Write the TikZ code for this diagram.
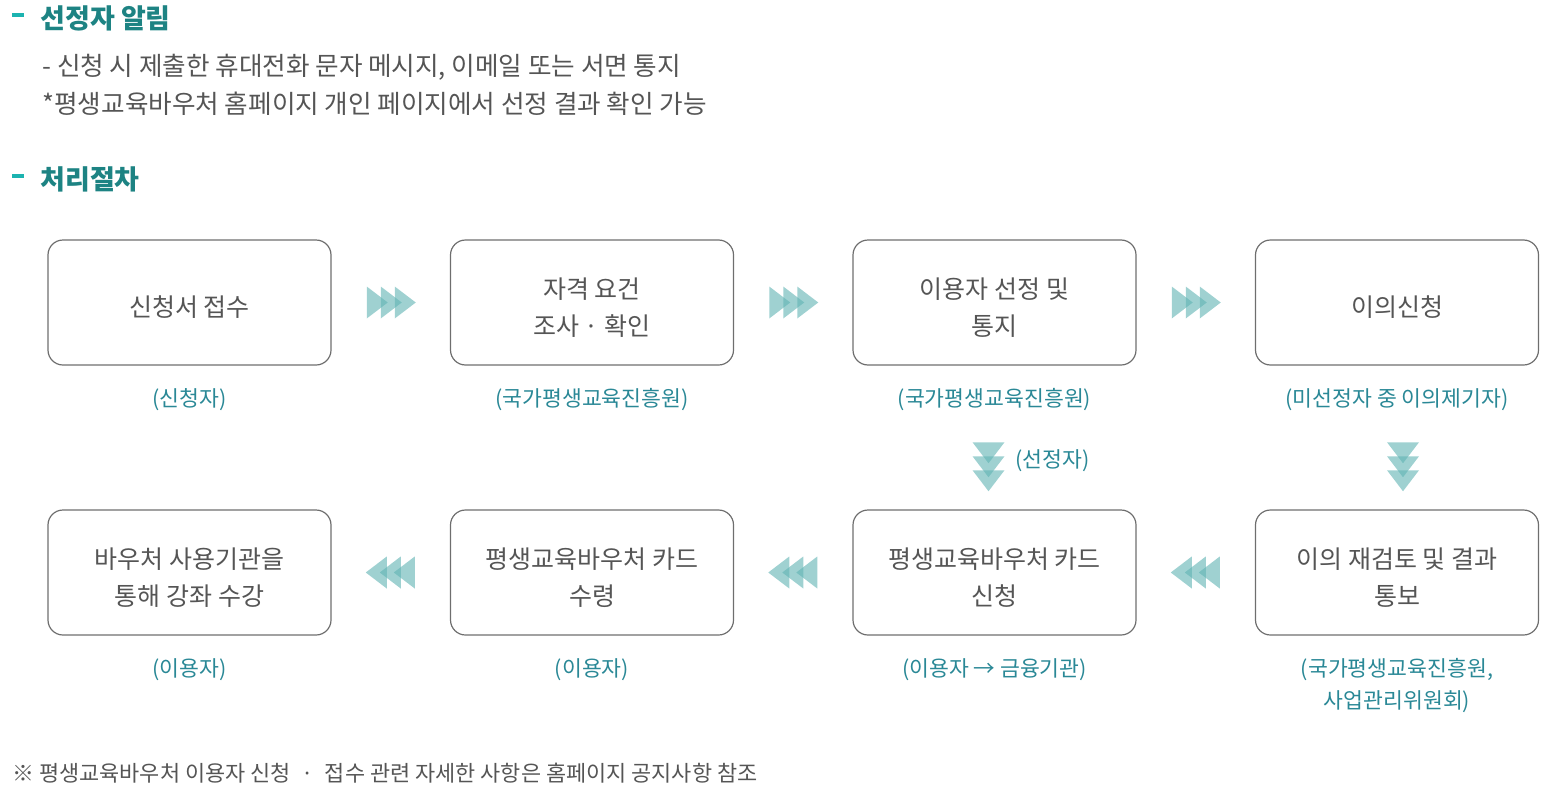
\documentclass[tikz,border=0pt]{standalone}
\usepackage{fontspec}
\setmainfont{Noto Sans CJK KR}
\usepackage{xcolor}
\usetikzlibrary{positioning}
\definecolor{INK}{HTML}{555555}
\definecolor{EDGE}{HTML}{6E6E6E}
\definecolor{HEAD}{HTML}{1D8383}
\definecolor{BAR}{HTML}{1CB3B0}
\definecolor{ROLE}{HTML}{2A8896}
\definecolor{CHEV}{HTML}{5FB3B3}

\tikzset{
  chevs/.pic={
    \foreach \dx in {-24,-10,4}
      \fill[CHEV, opacity=.6] (\dx,-16) -- (\dx+21,0) -- (\dx,16) -- cycle;
  }
}

\begin{document}
\begin{tikzpicture}[
  x=0.5pt, y=-0.5pt,
  box/.style={rounded corners=7.5pt, draw=EDGE, line width=0.6pt, align=center,
    minimum width=141.5pt, minimum height=62.5pt, text=INK,
    font=\fontsize{12.5}{18.5}\selectfont,
    execute at begin node={\rule{0pt}{#1}}},
  box/.default=14.8pt,
  box2/.style={box=33.6pt},
  role/.style={text=ROLE, align=center, inner sep=0pt, font=\fontsize{10.8}{16}\selectfont},
  head/.style={anchor=west, inner sep=0pt, text=HEAD, font=\fontsize{13.5}{16}\selectfont\bfseries},
  bar/.style={draw=BAR, line width=2pt},
  body/.style={anchor=west, inner sep=0pt, text=INK, font=\fontsize{12.8}{16}\selectfont},
]
\useasboundingbox (0,0) rectangle (1558,803);

% notice
\draw[bar] (12,15) -- (24,15);
\node[head] (h1) at (40,18) {선정자 알림};
\node[body] (t1) at (42,67) {- 신청 시 제출한 휴대전화 문자 메시지, 이메일 또는 서면 통지};
\node[body] (t2) at (42,104) {*평생교육바우처 홈페이지 개인 페이지에서 선정 결과 확인 가능};

% procedure
\draw[bar] (12,176) -- (24,176);
\node[head] (h2) at (40,179) {처리절차};

% first row
\node[box] (b1) at (189.5,302.5) {신청서 접수};
\node[box2] (b2) at (592,302.5) {자격 요건\\조사 · 확인};
\node[box2] (b3) at (994.5,302.5) {이용자 선정 및\\통지};
\node[box] (b4) at (1397,302.5) {이의신청};
\node[role] (r1) at (189.5,399.5) {(신청자)};
\node[role] (r2) at (592,399.5) {(국가평생교육진흥원)};
\node[role] (r3) at (994.5,399.5) {(국가평생교육진흥원)};
\node[role] (r4) at (1397,399.5) {(미선정자 중 이의제기자)};

% second row
\node[box2] (b5) at (1397,572.5) {이의 재검토 및 결과\\통보};
\node[box2] (b6) at (994.5,572.5) {평생교육바우처 카드\\신청};
\node[box2] (b7) at (592,572.5) {평생교육바우처 카드\\수령};
\node[box2] (b8) at (189.5,572.5) {바우처 사용기관을\\통해 강좌 수강};
\node[role] (r5) at (1397,686) {(국가평생교육진흥원,\\사업관리위원회)};
\node[role] (r6) at (994.5,669.5) {(이용자 → 금융기관)};
\node[role] (r7) at (592,669.5) {(이용자)};
\node[role] (r8) at (189.5,669.5) {(이용자)};

% chevrons
\path (b1.east) -- (b2.west) pic[pos=.5]{chevs};
\path (b2.east) -- (b3.west) pic[pos=.5]{chevs};
\path (b3.east) -- (b4.west) pic[pos=.5]{chevs};
\path (b4.south) -- (b5.north) pic[pos=.7, xshift=3pt, rotate=-90]{chevs};
\path (b3.south) -- (b6.north) pic[pos=.7, xshift=-3pt, rotate=-90]{chevs};
\path (b5.west) -- (b6.east) pic[pos=.5, rotate=180]{chevs};
\path (b6.west) -- (b7.east) pic[pos=.5, rotate=180]{chevs};
\path (b7.west) -- (b8.east) pic[pos=.5, rotate=180]{chevs};
\node[role, anchor=west] (sel) at (1015,460.5) {(선정자)};

% footnote
\node[body, font=\fontsize{10.95}{14}\selectfont] (note) at (12,773.5)
  {※ 평생교육바우처 이용자 신청\enspace·\enspace 접수 관련 자세한 사항은 홈페이지 공지사항 참조};

\end{tikzpicture}
\end{document}
